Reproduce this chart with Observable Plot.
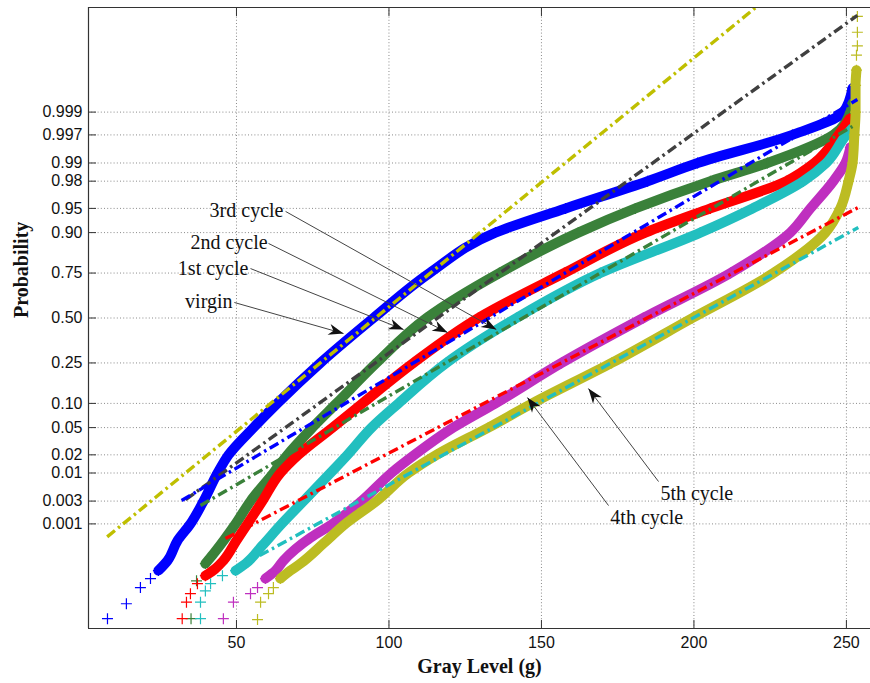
<!DOCTYPE html>
<html><head><meta charset="utf-8">
<script src="https://cdn.jsdelivr.net/npm/d3@7"></script>
<script src="https://cdn.jsdelivr.net/npm/@observablehq/plot@0.6"></script>
<style>body{margin:0;background:#fff}#chart{width:870px;height:683px}</style>
</head><body><div id="chart"></div>
<script>
// ---------- data ----------
const probLevels = [0.001,0.003,0.01,0.02,0.05,0.10,0.25,0.50,0.75,0.90,0.95,0.98,0.99,0.997,0.999];
const probLabels = ["0.001","0.003","0.01","0.02","0.05","0.10","0.25","0.50","0.75","0.90","0.95","0.98","0.99","0.997","0.999"];
const grayTicks = [50,100,150,200,250];
const seriesNames = ["virgin","1st cycle","2nd cycle","3rd cycle","4th cycle","5th cycle"];
const seriesColors = ["#0000ff","#3a813a","#ff0000","#22bfbf","#bf2fbf","#bcbc22"];

// gray level at which each curve crosses the probability levels (null = not reached)
const virginGray = [34.9,39.2,43.8,47.4,55.6,63.4,77.5,94.9,113.3,134.9,157.9,184.8,201.2,232.3,249.0];
const cycle1Gray = [49.7,54.6,62.1,66.7,74.9,82.8,95.9,112.3,136.2,162.1,180.8,205.4,224.1,245.7,251.3];
const cycle2Gray = [53.6,58.5,64.4,70.3,81.5,91.3,108.0,129.3,157.5,184.1,205.4,230.3,239.5,247.4,null];
const cycle3Gray = [64.8,72.0,80.8,86.4,94.3,103.1,118.8,141.8,169.3,202.1,219.2,235.9,243.4,250.0,null];
const cycle4Gray = [81.5,91.0,100.8,108.4,121.1,134.9,156.6,183.4,212.0,231.6,238.2,245.7,249.7,null,null];
const cycle5Gray = [85.7,95.9,106.4,115.6,132.6,147.0,173.0,199.5,226.1,243.1,248.0,250.7,252.0,252.6,253.0];

// isolated lowest / highest samples [gray, probability]
const virginSparse = [[7.7,3.2e-6],[13.9,9e-6],[18.5,2.6e-5],[21.8,4.6e-5]];
const cycle1Sparse = [[35.1,3.2e-6],[36.9,4e-5]];
const cycle2Sparse = [[32.2,3.2e-6],[33.6,1e-5],[34.9,1.76e-5],[37.2,3.35e-5]];
const cycle3Sparse = [[38.2,3.2e-6],[38.2,1e-5],[39.8,2.1e-5],[41.5,3.35e-5],[45.4,5.5e-5]];
const cycle4Sparse = [[45.7,3.2e-6],[49.0,1e-5],[54.6,1.76e-5],[56.9,2.6e-5]];
const cycle5Sparse = [[56.9,3.0e-6],[57.9,1e-5],[60.5,1.76e-5],[62.1,2.6e-5],[253.3,0.99996],[253.6,0.999978],[253.6,0.999991],[253.6,0.999997]];

// dense lower part of each band [gray, probability]
const virginLow = [[24.4,7.5e-5],[27.4,1.36e-4],[30.7,4.2e-4]];
const cycle1Low = [[39.8,1.14e-4],[42.5,2.03e-4]];
const cycle2Low = [[39.8,5.5e-5],[43.1,8.5e-5],[45.7,1.36e-4],[50.0,4.2e-4]];
const cycle3Low = [[49.7,7.5e-5],[53.0,1.14e-4],[58.5,3.2e-4]];
const cycle4Low = [[59.5,4.6e-5],[62.8,7.5e-5],[65.4,1.36e-4],[74.3,4.9e-4]];
const cycle5Low = [[64.4,4.6e-5],[67.7,7.5e-5],[71.0,1.14e-4],[78.5,3.55e-4]];

// upper end of each band [gray, probability]
const virginTop = [[252.0,0.99972]];
const cycle1Top = [[252.0,0.99936]];
const cycle2Top = [[251.0,0.9986]];
const cycle3Top = [[252.0,0.9978]];
const cycle4Top = [[251.3,0.9948]];
const cycle5Top = [[253.0,0.99976],[253.3,0.9999]];

// normal reference lines: [gStart, pStart, gEnd, pEnd]
const fitColors = ["#bfbf00","#404040","#0000ff","#3a813a","#ff0000","#22bfbf"];
const fitLines = [
  [7.6,5.1e-4,220.2,0.9999984],
  [33.3,0.00321,253.6,0.9999972],
  [32.0,0.00307,253.6,0.99948],
  [38.2,0.00244,252.0,0.99798],
  [46.4,4.65e-4,253.9,0.9514],
  [57.6,1.81e-4,253.9,0.9129]
];

// annotations: label, text anchor point [g,p], line start [g,p], arrow tip [g,p]
const annoText = ["virgin","1st cycle","2nd cycle","3rd cycle","4th cycle","5th cycle"];
const annoAnchor = ["end","end","end","end","start","start"];
const annoTextPos = [[48.7,0.598],[53.9,0.771],[60.2,0.8716],[65.4,0.9467],[172.6,0.00137],[189.0,0.0042]];
const annoFrom = [[49.3,0.592],[54.6,0.771],[60.5,0.8684],[66.1,0.9451],[172.0,0.00244],[188.4,0.00705]];
const annoTip = [[85.1,0.408],[104.8,0.431],[119.2,0.4137],[135.2,0.431],[145.4,0.1162],[165.4,0.1448]];

// ---------- helpers ----------
function probit(p) {
  const a=[-3.969683028665376e+01,2.209460984245205e+02,-2.759285104469687e+02,1.383577518672690e+02,-3.066479806614716e+01,2.506628277459239e+00];
  const b=[-5.447609879822406e+01,1.615858368580409e+02,-1.556989798598866e+02,6.680131188771972e+01,-1.328068155288572e+01];
  const c=[-7.784894002430293e-03,-3.223964580411365e-01,-2.400758277161838e+00,-2.549732539343734e+00,4.374664141464968e+00,2.938163982698783e+00];
  const d=[7.784695709041462e-03,3.224671290700398e-01,2.445134137142996e+00,3.754408661907416e+00];
  const pl=0.02425, ph=1-pl;
  let q,r;
  if (p < pl) { q=Math.sqrt(-2*Math.log(p)); return (((((c[0]*q+c[1])*q+c[2])*q+c[3])*q+c[4])*q+c[5])/((((d[0]*q+d[1])*q+d[2])*q+d[3])*q+1); }
  if (p <= ph) { q=p-0.5; r=q*q; return (((((a[0]*r+a[1])*r+a[2])*r+a[3])*r+a[4])*r+a[5])*q/(((((b[0]*r+b[1])*r+b[2])*r+b[3])*r+b[4])*r+1); }
  q=Math.sqrt(-2*Math.log(1-p)); return -(((((c[0]*q+c[1])*q+c[2])*q+c[3])*q+c[4])*q+c[5])/((((d[0]*q+d[1])*q+d[2])*q+d[3])*q+1);
}
const plusSym = {draw(ctx, size){ const r=Math.sqrt(size/Math.PI); ctx.moveTo(-r,0); ctx.lineTo(r,0); ctx.moveTo(0,-r); ctx.lineTo(0,r); }};
const arrowHead = {draw(ctx){ ctx.moveTo(0,0); ctx.lineTo(-15,-5.5); ctx.lineTo(-10.5,0); ctx.lineTo(-15,5.5); ctx.closePath(); }};

const grays = [virginGray,cycle1Gray,cycle2Gray,cycle3Gray,cycle4Gray,cycle5Gray];
const sparses = [virginSparse,cycle1Sparse,cycle2Sparse,cycle3Sparse,cycle4Sparse,cycle5Sparse];
const lows = [virginLow,cycle1Low,cycle2Low,cycle3Low,cycle4Low,cycle5Low];
const tops = [virginTop,cycle1Top,cycle2Top,cycle3Top,cycle4Top,cycle5Top];

const zTicks = probLevels.map(probit);
const labelMap = new Map(zTicks.map((z,i)=>[z, probLabels[i]]));
const xDomain = [1.475, 257.9];
const zDomain = [-4.66, 4.66];

const marks = [
  Plot.ruleX(grayTicks, {stroke:"#8a8a8a", strokeDasharray:"1,2.2"}),
  Plot.ruleY(zTicks, {stroke:"#8a8a8a", strokeDasharray:"1,2.2"})
];
seriesNames.forEach((name,i)=>{
  const band = [...lows[i], ...grays[i].map((g,k)=>g==null?null:[g,probLevels[k]]).filter(Boolean), ...tops[i]]
    .map(([g,p])=>({name,g,p}));
  const sparse = sparses[i].map(([g,p])=>({name,g,p}));
  const col = seriesColors[i];
  marks.push(Plot.line(band, {x:"g", y:d=>probit(d.p), stroke:col, strokeWidth:10, curve:"monotone-y", strokeLinejoin:"round"}));
  marks.push(Plot.dot([...sparse, ...band], {x:"g", y:d=>probit(d.p), symbol:plusSym, r:5.5, stroke:col, fill:"none", strokeWidth:1.2}));
});
fitLines.forEach((f,i)=>{
  marks.push(Plot.link([f], {x1:d=>d[0], y1:d=>probit(d[1]), x2:d=>d[2], y2:d=>probit(d[3]), stroke:fitColors[i], strokeWidth:3.4, strokeDasharray:"10,4,2.5,4", clip:true}));
});
// frame (left, top, bottom)
marks.push(Plot.ruleX([xDomain[0]], {stroke:"#333", strokeWidth:1.2}));
marks.push(Plot.ruleY([zDomain[0], zDomain[1]], {stroke:"#333", strokeWidth:1.2}));
// axes with inward ticks
marks.push(Plot.axisX(grayTicks, {anchor:"bottom", tickSize:-8, tickPadding:16, fontSize:16, label:null, stroke:"#333"}));
marks.push(Plot.axisX(grayTicks, {anchor:"top", tickSize:-8, tickFormat:()=>"", label:null, stroke:"#333"}));
marks.push(Plot.axisY(zTicks, {anchor:"left", tickSize:-8, tickPadding:14, fontSize:16, tickFormat:z=>labelMap.get(z), label:null, stroke:"#333"}));
// axis titles
marks.push(Plot.text(["Gray Level (g)"], {frameAnchor:"bottom", dy:44, fontSize:20, fontWeight:"bold", fontFamily:"Liberation Serif", fill:"#111"}));
marks.push(Plot.text(["Probability"], {frameAnchor:"left", dx:-67, rotate:-90, fontSize:20, fontWeight:"bold", fontFamily:"Liberation Serif", fill:"#111"}));
// annotations
const anno = annoText.map((t,i)=>({t, anchor:annoAnchor[i], tg:annoTextPos[i][0], tp:annoTextPos[i][1], g1:annoFrom[i][0], p1:annoFrom[i][1], g2:annoTip[i][0], p2:annoTip[i][1]}));
marks.push(Plot.link(anno, {x1:"g1", y1:d=>probit(d.p1), x2:"g2", y2:d=>probit(d.p2), stroke:"#444", strokeWidth:1}));
marks.push(Plot.text(anno.filter(d=>d.anchor==="end"), {x:"tg", y:d=>probit(d.tp), text:"t", textAnchor:"end", fontFamily:"Liberation Serif", fontSize:20, fill:"#111"}));
marks.push(Plot.text(anno.filter(d=>d.anchor==="start"), {x:"tg", y:d=>probit(d.tp), text:"t", textAnchor:"start", fontFamily:"Liberation Serif", fontSize:20, fill:"#111"}));

const opts = {
  width:870, height:683,
  marginLeft:88, marginRight:0, marginTop:7, marginBottom:55,
  style:{fontFamily:"Liberation Sans, Arial, sans-serif", fontSize:"16px", background:"#fff", color:"#111"},
  x:{domain:xDomain},
  y:{domain:zDomain}
};
const base = Plot.plot({...opts, marks});
const sx = base.scale("x"), sy = base.scale("y");
anno.forEach(a=>{
  const dx = sx.apply(a.g2)-sx.apply(a.g1);
  const dy = sy.apply(probit(a.p2))-sy.apply(probit(a.p1));
  a.angle = Math.atan2(dy,dx)*180/Math.PI;
});
const chart = Plot.plot({...opts, marks:[...marks, Plot.dot(anno, {x:"g2", y:d=>probit(d.p2), symbol:arrowHead, rotate:"angle", fill:"#111", stroke:"none"})]});
document.getElementById("chart").appendChild(chart);
</script></body></html>
